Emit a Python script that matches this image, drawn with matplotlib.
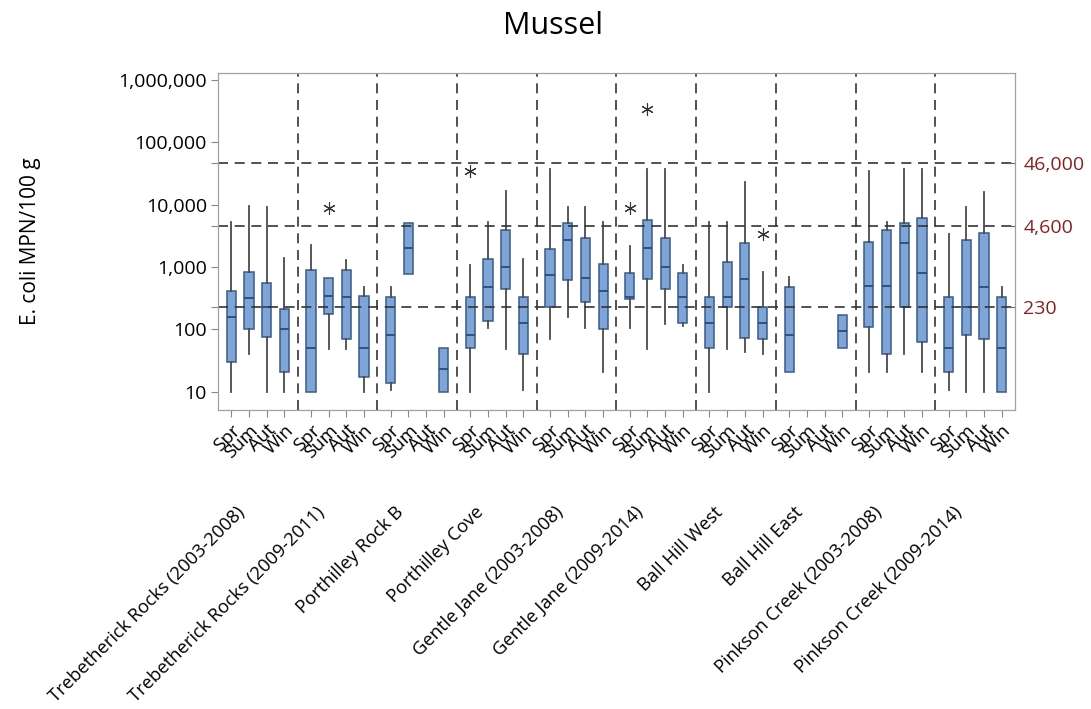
import numpy as np
import matplotlib
matplotlib.use("Agg")
import matplotlib.pyplot as plt
from matplotlib.ticker import NullLocator

plt.rcParams['font.family'] = ['Open Sans', 'DejaVu Sans']

sites = ['Trebetherick Rocks (2003-2008)', 'Trebetherick Rocks (2009-2011)',
         'Porthilley Rock B', 'Porthilley Cove',
         'Gentle Jane (2003-2008)', 'Gentle Jane (2009-2014)',
         'Ball Hill West', 'Ball Hill East',
         'Pinkson Creek (2003-2008)', 'Pinkson Creek (2009-2014)']
seasons = ['Spr', 'Sum', 'Aut', 'Win']

# box statistics per site, one entry per season (None = no samples)
whis_lo = [[10, 40, 10, 10], [10, 49, 49, 10], [10.7, 790, None, 10],
           [10, 107, 49, 10.7], [71, 158, 107, 21], [107, 49, 124, 112],
           [10, 49, 44, 40], [21, None, None, 50], [21, 21, 40, 21],
           [10.7, 10, 10, 10]]
q1 = [[30, 100, 75, 21], [10, 180, 70, 17], [14, 790, None, 10],
      [50, 135, 440, 40], [230, 630, 280, 102], [310, 645, 440, 128],
      [50, 230, 72, 71], [21, None, None, 50], [110, 40, 230, 62],
      [21, 80, 71, 10]]
med = [[160, 320, 230, 100], [50, 350, 330, 50], [80, 2000, None, 23],
       [80, 475, 1000, 128], [760, 2750, 660, 420], [330, 2050, 1020, 330],
       [128, 330, 645, 128], [80, None, None, 96], [500, 500, 2450, 800],
       [50, 230, 475, 50]]
q3 = [[420, 850, 560, 210], [900, 660, 900, 350], [330, 5100, None, 50],
      [330, 1340, 3900, 330], [1940, 5100, 2900, 1140], [800, 5700, 2900, 800],
      [330, 1220, 2400, 230], [475, None, None, 170], [2570, 3900, 5100, 6200],
      [330, 2750, 3500, 330]]
whis_hi = [[5300, 9500, 9100, 1400], [2300, 660, 1300, 480], [480, 5100, None, 50],
           [1100, 5300, 16500, 1340], [37500, 9100, 9100, 5300],
           [2200, 37500, 37500, 1080], [5300, 5300, 23000, 820],
           [690, None, None, 170], [35000, 5300, 37500, 37500],
           [3400, 9100, 16000, 475]]

# outliers: (site index, season index, value)
outliers = [(1, 1, 9000), (3, 0, 35000), (5, 0, 8900), (5, 1, 345000), (6, 3, 3350)]

limits = [230, 4600, 46000]
limit_labels = ['230', '4,600', '46,000']

gw = 4.5  # width of one site panel in x units
off = 0.75

fig = plt.figure(figsize=(10.91, 7.09), dpi=100)
ax = fig.add_axes([0.1998, 0.4217, 0.7305, 0.4753])

stats, pos = [], []
for g in range(len(sites)):
    for k in range(4):
        if med[g][k] is None:
            continue
        fl = [v for (gi, ki, v) in outliers if gi == g and ki == k]
        stats.append(dict(med=med[g][k], q1=q1[g][k], q3=q3[g][k],
                          whislo=whis_lo[g][k], whishi=whis_hi[g][k], fliers=fl))
        pos.append(g * gw + off + k)

ax.bxp(stats, positions=pos, widths=0.52, patch_artist=True, showcaps=False,
       boxprops=dict(facecolor='#7ea5d8', edgecolor='#3c5a88', linewidth=1.1),
       medianprops=dict(color='#2e4a78', linewidth=1.3),
       whiskerprops=dict(color='#4a4a4a', linewidth=1.3),
       flierprops=dict(marker=(6, 2, 0), markersize=9, markeredgecolor='#333333',
                       markeredgewidth=0.8, linestyle='none'),
       zorder=2)

ls = (0, (6, 4))
for g in range(1, len(sites)):
    ax.axvline(g * gw, color='#333333', lw=1.2, ls=ls, zorder=3)
for v in limits:
    ax.axhline(v, color='#333333', lw=1.2, ls=ls, zorder=3)

ax.set_yscale('log')
ax.set_ylim(5.1, 1.3e6)
ax.set_xlim(0, gw * len(sites))
ax.set_yticks([10, 100, 1000, 10000, 100000, 1000000] + limits)
ax.set_yticklabels(['10', '100', '1,000', '10,000', '100,000', '1,000,000', '', '', ''])
ax.yaxis.set_minor_locator(NullLocator())
ax.tick_params(axis='y', labelsize=14, length=5, color='#888888', pad=3)

ticks = [g * gw + off + k for g in range(len(sites)) for k in range(4)]
ax.set_xticks(ticks)
ax.set_xticklabels(seasons * len(sites), rotation=45, ha='right',
                   rotation_mode='anchor', fontsize=13.5)
ax.tick_params(axis='x', length=5, color='#888888', pad=3)

for s in ax.spines.values():
    s.set_color('#a0a0a0')

# right-hand labels for the classification limits
ax2 = ax.twinx()
ax2.set_yscale('log')
ax2.set_ylim(ax.get_ylim())
ax2.set_yticks(limits)
ax2.set_yticklabels(limit_labels)
ax2.yaxis.set_minor_locator(NullLocator())
ax2.tick_params(axis='y', direction='in', length=5, color='#666666',
                labelcolor='#8b2020', labelsize=14, pad=6)
for s in ax2.spines.values():
    s.set_color('#a0a0a0')

for g, name in enumerate(sites):
    ax.text(g * gw + gw / 2 - 0.9, -0.295, name, transform=ax.get_xaxis_transform(),
            rotation=45, ha='right', va='center', rotation_mode='anchor',
            fontsize=13.2)

ax.set_ylabel('E. coli MPN/100 g', fontsize=15)
ax.yaxis.set_label_coords(-0.222, 0.5)
fig.text(0.507, 0.963, 'Mussel', ha='center', va='center', fontsize=22)

fig.savefig('out.png', dpi=100)
